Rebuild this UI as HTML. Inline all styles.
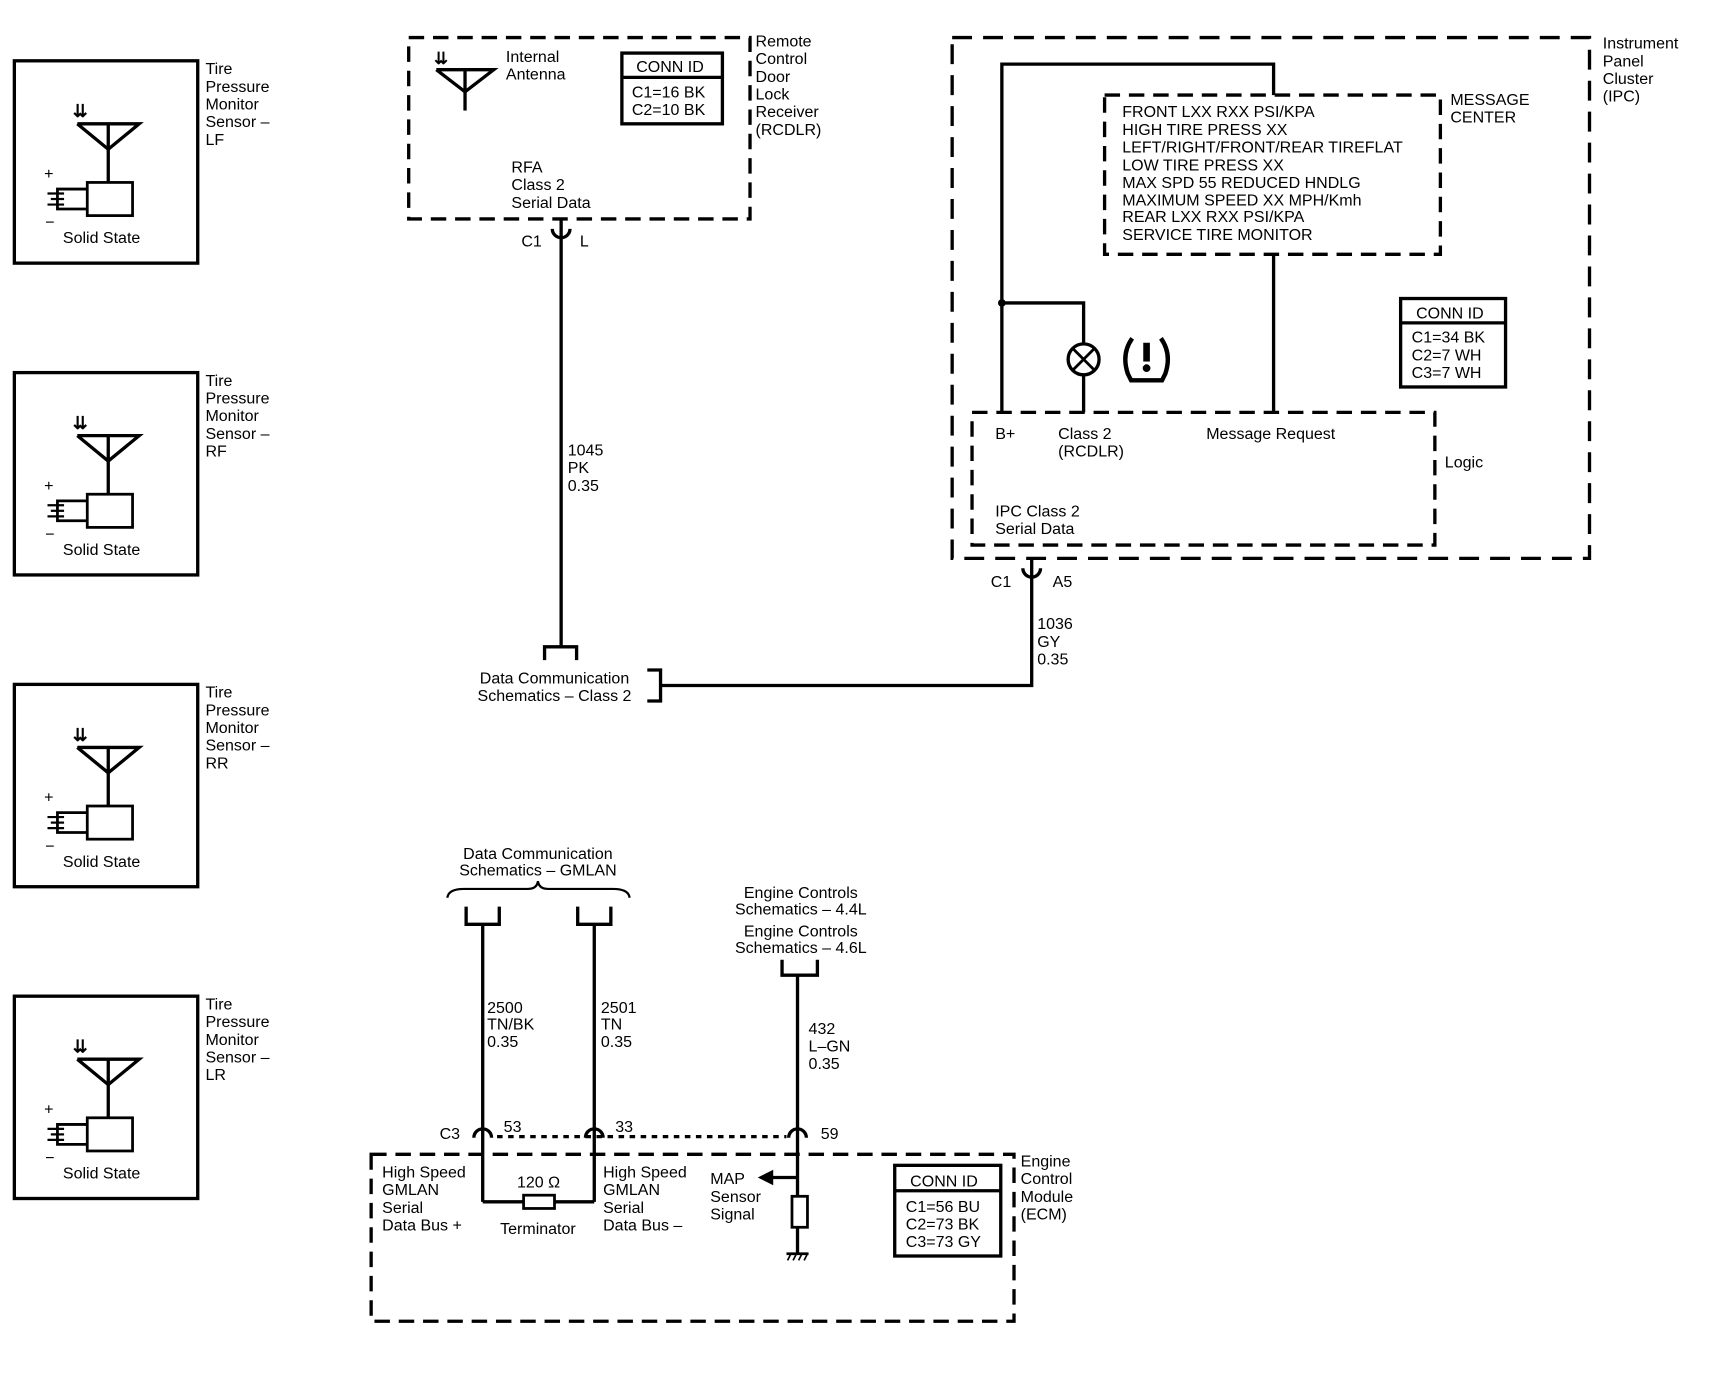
<!DOCTYPE html>
<html><head><meta charset="utf-8"><style>
html,body{margin:0;padding:0;background:#fff;}
svg{display:block;}
text{font-family:"Liberation Sans",sans-serif;font-size:14.5px;fill:#000;}
</style></head><body>
<svg width="1732" height="1392" viewBox="0 0 1568 1259" preserveAspectRatio="none" xmlns="http://www.w3.org/2000/svg">
<defs>
<g id="sensor">
  <rect x="13" y="0" width="166" height="183" fill="none" stroke="#000" stroke-width="3"/>
  <text x="66" y="51" style="font-size:16px;font-weight:bold">⇊</text>
  <polyline points="70,57 126,57 98,80 70,57" fill="none" stroke="#000" stroke-width="3"/>
  <line x1="98" y1="57" x2="98" y2="110" stroke="#000" stroke-width="3"/>
  <rect x="79" y="110" width="41" height="30" fill="none" stroke="#000" stroke-width="2.5"/>
  <polyline points="79,116 52,116 52,134 79,134" fill="none" stroke="#000" stroke-width="2.5"/>
  <line x1="43" y1="120" x2="58" y2="120" stroke="#000" stroke-width="2"/>
  <line x1="46" y1="125" x2="58" y2="125" stroke="#000" stroke-width="2"/>
  <line x1="43" y1="130" x2="58" y2="130" stroke="#000" stroke-width="2"/>
  <text x="40" y="107">+</text>
  <text x="41" y="151">−</text>
  <text x="92" y="165" text-anchor="middle">Solid State</text>
</g>
</defs>
<use href="#sensor" y="55"/>
<use href="#sensor" y="337"/>
<use href="#sensor" y="619"/>
<use href="#sensor" y="901"/>
<g>
<text x="186" y="67">Tire</text><text x="186" y="83">Pressure</text><text x="186" y="99">Monitor</text><text x="186" y="115">Sensor –</text><text x="186" y="131">LF</text>
<text x="186" y="349">Tire</text><text x="186" y="365">Pressure</text><text x="186" y="381">Monitor</text><text x="186" y="397">Sensor –</text><text x="186" y="413">RF</text>
<text x="186" y="631">Tire</text><text x="186" y="647">Pressure</text><text x="186" y="663">Monitor</text><text x="186" y="679">Sensor –</text><text x="186" y="695">RR</text>
<text x="186" y="913">Tire</text><text x="186" y="929">Pressure</text><text x="186" y="945">Monitor</text><text x="186" y="961">Sensor –</text><text x="186" y="977">LR</text>
</g>

<g stroke="#000" fill="none" stroke-width="3">
<rect x="370" y="34" width="309" height="164" stroke-dasharray="14,8"/>
<polyline points="395,63 447,63 421,83 395,63"/>
<line x1="421" y1="63" x2="421" y2="100"/>
<rect x="563" y="48" width="91" height="64"/>
<line x1="563" y1="70" x2="654" y2="70"/>
<line x1="508" y1="198" x2="508" y2="585"/>
<path d="M500,207 A8,8 0 0 0 516,207"/>
<polyline points="493,597 493,585 522,585 522,597"/>
<polyline points="586,606 598,606 598,634 586,634"/>
<polyline points="598,620 934,620 934,505"/>
<path d="M926,514 A8,8 0 0 0 942,514"/>
<rect x="862" y="34" width="577" height="471" stroke-dasharray="18,10"/>
<rect x="1000" y="86" width="304" height="144" stroke-dasharray="14,8"/>
<polyline points="907,373 907,58 1153,58 1153,86"/>
<polyline points="907,274 981,274 981,311"/>
<line x1="981" y1="339" x2="981" y2="373"/>
<circle cx="981" cy="325" r="14"/>
<line x1="971" y1="315" x2="991" y2="335" stroke-width="2.5"/>
<line x1="991" y1="315" x2="971" y2="335" stroke-width="2.5"/>
<line x1="1153" y1="230" x2="1153" y2="373"/>
<rect x="880" y="373" width="419" height="120" stroke-dasharray="14,8"/>
<rect x="1268" y="270" width="95" height="80"/>
<line x1="1268" y1="292" x2="1363" y2="292"/>
<rect x="336" y="1044" width="582" height="151" stroke-dasharray="14,8"/>
<line x1="450" y1="1028" x2="712" y2="1028" stroke-dasharray="5,5"/>
<line x1="437" y1="836" x2="437" y2="1087"/>
<line x1="538" y1="836" x2="538" y2="1087"/>
<polyline points="422,820 422,836 452,836 452,820"/>
<polyline points="523,820 523,836 553,836 553,820"/>
<path d="M405,812 Q406,804 420,804 L478,804 Q486,804 487,797 Q488,804 496,804 L555,804 Q569,804 570,812" stroke-width="2"/>
<path d="M429,1029 A8,8 0 0 1 445,1029"/>
<path d="M530,1029 A8,8 0 0 1 546,1029"/>
<path d="M714,1029 A8,8 0 0 1 730,1029"/>
<polyline points="437,1087 474,1087"/>
<polyline points="502,1087 538,1087"/>
<rect x="474" y="1081" width="28" height="12" stroke-width="2.5"/>
<polyline points="708,868 708,882 740,882 740,868"/>
<line x1="722" y1="882" x2="722" y2="1082"/>
<line x1="722" y1="1065" x2="698" y2="1065"/>
<rect x="717" y="1082" width="14" height="28" stroke-width="2.5"/>
<line x1="722" y1="1110" x2="722" y2="1134"/>
<line x1="712" y1="1134" x2="732" y2="1134" stroke-width="2.5"/>
<rect x="810" y="1054" width="96" height="82"/>
<line x1="810" y1="1077" x2="906" y2="1077"/>
</g>
<circle cx="907" cy="274" r="3.5" fill="#000"/>
<polygon points="686,1065 700,1058 700,1072" fill="#000"/>
<g stroke="#000" stroke-width="1.5"><line x1="713" y1="1140" x2="716" y2="1134"/><line x1="718" y1="1140" x2="721" y2="1134"/><line x1="723" y1="1140" x2="726" y2="1134"/><line x1="728" y1="1140" x2="731" y2="1134"/></g>
<g stroke="#000" fill="none" stroke-width="4">
<path d="M1025,306 Q1015,320 1021,338 L1024,344 L1052,344 L1055,338 Q1061,320 1051,306"/>
</g>
<rect x="1035" y="310" width="6" height="17" fill="#000"/>
<circle cx="1038" cy="333" r="3.5" fill="#000"/>
<text x="393" y="58" style="font-size:15px;font-weight:bold">⇊</text>

<text x="458" y="56">Internal</text><text x="458" y="72">Antenna</text>
<text x="576" y="65">CONN ID</text>
<text x="572" y="88">C1=16 BK</text><text x="572" y="104">C2=10 BK</text>
<text x="684" y="42">Remote</text><text x="684" y="58">Control</text><text x="684" y="74">Door</text><text x="684" y="90">Lock</text><text x="684" y="106">Receiver</text><text x="684" y="122">(RCDLR)</text>
<text x="463" y="156">RFA</text><text x="463" y="172">Class 2</text><text x="463" y="188">Serial Data</text>
<text x="472" y="223">C1</text><text x="525" y="223">L</text>
<text x="514" y="412">1045</text><text x="514" y="428">PK</text><text x="514" y="444">0.35</text>
<text x="502" y="618" text-anchor="middle">Data Communication</text><text x="502" y="634" text-anchor="middle">Schematics – Class 2</text>
<text x="897" y="531">C1</text><text x="953" y="531">A5</text>
<text x="939" y="569">1036</text><text x="939" y="585">GY</text><text x="939" y="601">0.35</text>
<text x="1451" y="44">Instrument</text><text x="1451" y="60">Panel</text><text x="1451" y="76">Cluster</text><text x="1451" y="92">(IPC)</text>
<text x="1313" y="95">MESSAGE</text><text x="1313" y="111">CENTER</text>
<text x="1016" y="106">FRONT LXX RXX PSI/KPA</text>
<text x="1016" y="122">HIGH TIRE PRESS XX</text>
<text x="1016" y="138">LEFT/RIGHT/FRONT/REAR TIREFLAT</text>
<text x="1016" y="154">LOW TIRE PRESS XX</text>
<text x="1016" y="170">MAX SPD 55 REDUCED HNDLG</text>
<text x="1016" y="186">MAXIMUM SPEED XX MPH/Kmh</text>
<text x="1016" y="201">REAR LXX RXX PSI/KPA</text>
<text x="1016" y="217">SERVICE TIRE MONITOR</text>
<text x="1282" y="288">CONN ID</text>
<text x="1278" y="310">C1=34 BK</text><text x="1278" y="326">C2=7 WH</text><text x="1278" y="342">C3=7 WH</text>
<text x="901" y="397">B+</text>
<text x="958" y="397">Class 2</text><text x="958" y="413">(RCDLR)</text>
<text x="1092" y="397">Message Request</text>
<text x="1308" y="423">Logic</text>
<text x="901" y="467">IPC Class 2</text><text x="901" y="483">Serial Data</text>

<text x="487" y="777" text-anchor="middle">Data Communication</text><text x="487" y="792" text-anchor="middle">Schematics – GMLAN</text>
<text x="725" y="812" text-anchor="middle">Engine Controls</text><text x="725" y="827" text-anchor="middle">Schematics – 4.4L</text>
<text x="725" y="847" text-anchor="middle">Engine Controls</text><text x="725" y="862" text-anchor="middle">Schematics – 4.6L</text>
<text x="441" y="916">2500</text><text x="441" y="931">TN/BK</text><text x="441" y="947">0.35</text>
<text x="544" y="916">2501</text><text x="544" y="931">TN</text><text x="544" y="947">0.35</text>
<text x="732" y="935">432</text><text x="732" y="951">L–GN</text><text x="732" y="967">0.35</text>
<text x="398" y="1030">C3</text><text x="456" y="1024">53</text><text x="557" y="1024">33</text><text x="743" y="1030">59</text>
<text x="346" y="1065">High Speed</text><text x="346" y="1081">GMLAN</text><text x="346" y="1097">Serial</text><text x="346" y="1113">Data Bus +</text>
<text x="546" y="1065">High Speed</text><text x="546" y="1081">GMLAN</text><text x="546" y="1097">Serial</text><text x="546" y="1113">Data Bus –</text>
<text x="468" y="1074">120 Ω</text>
<text x="487" y="1116" text-anchor="middle">Terminator</text>
<text x="643" y="1071">MAP</text><text x="643" y="1087">Sensor</text><text x="643" y="1103">Signal</text>
<text x="824" y="1073">CONN ID</text>
<text x="820" y="1096">C1=56 BU</text><text x="820" y="1112">C2=73 BK</text><text x="820" y="1128">C3=73 GY</text>
<text x="924" y="1055">Engine</text><text x="924" y="1071">Control</text><text x="924" y="1087">Module</text><text x="924" y="1103">(ECM)</text>
</svg>
</body></html>
